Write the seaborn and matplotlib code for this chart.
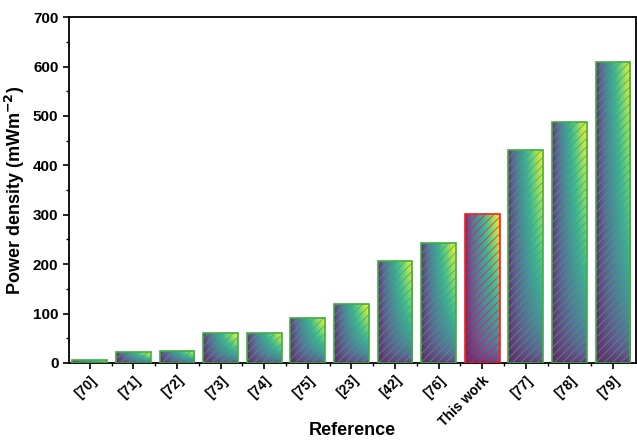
import numpy as np
import matplotlib
matplotlib.use("Agg")
import matplotlib.pyplot as plt
import seaborn as sns
from matplotlib.ticker import MultipleLocator, FixedLocator

# values
refs = ["[70]", "[71]", "[72]", "[73]", "[74]", "[75]", "[23]", "[42]", "[76]",
        "This work", "[77]", "[78]", "[79]"]
power = [6, 22, 25, 60, 61, 92, 119, 206, 242, 302, 432, 487, 610]
highlight = "This work"

sns.set_style("ticks")
plt.rcParams['font.family'] = ['Liberation Sans', 'DejaVu Sans']
plt.rcParams['font.weight'] = 'bold'
plt.rcParams['hatch.linewidth'] = 0.5
plt.rcParams['text.color'] = 'black'
plt.rcParams['axes.labelcolor'] = 'black'
plt.rcParams['xtick.color'] = 'black'
plt.rcParams['ytick.color'] = 'black'
plt.rcParams['axes.edgecolor'] = 'black'

fig = plt.figure(figsize=(6.37, 4.41), dpi=100)
ax = fig.add_axes([0.108, 0.177, 0.890, 0.784])

sns.barplot(x=refs, y=power, color="white", width=0.8, ax=ax, zorder=3)

# per-bar diagonal gradient, purple bottom-left -> yellow top-right
gx, gy = np.meshgrid(np.linspace(0, 1, 60), np.linspace(0, 1, 240))
grad = (gx ** 0.8) * (gy ** 0.5)

for patch, label in zip(ax.patches, refs):
    x0, w, h = patch.get_x(), patch.get_width(), patch.get_height()
    edge = "#ff1a1a" if label == highlight else "#3fae3f"
    patch.set_facecolor("none")
    patch.set_edgecolor(edge)
    patch.set_linewidth(1.2)
    patch.set_hatch("////")
    im = ax.imshow(grad, cmap="viridis", origin="lower", aspect="auto",
                   extent=[x0, x0 + w, 0, h], alpha=0.85, zorder=2,
                   interpolation="bilinear")
    im.set_clip_path(patch)

ax.set_xlim(-0.48, 12.52)
ax.set_ylim(0, 700)
ax.yaxis.set_major_locator(MultipleLocator(100))
ax.yaxis.set_minor_locator(MultipleLocator(50))
ax.xaxis.set_minor_locator(FixedLocator(np.arange(0.5, 12, 1)))

ax.tick_params(axis="both", which="major", direction="out", length=4, width=1.2,
               labelsize=11)
ax.tick_params(axis="x", which="major", labelsize=10)
ax.tick_params(axis="both", which="minor", direction="out", length=2.5, width=1.0)
for lab in ax.get_xticklabels():
    lab.set_rotation(45)
    lab.set_ha("right")
    lab.set_rotation_mode("anchor")
    lab.set_fontweight("bold")
for lab in ax.get_yticklabels():
    lab.set_fontweight("bold")

for s in ax.spines.values():
    s.set_linewidth(1.3)
    s.set_visible(True)

ax.set_ylabel("Power density (mWm$^{\\mathbf{-2}}$)", fontsize=13, fontweight="bold")
ax.set_xlabel("Reference", fontsize=13, fontweight="bold", va="center")
ax.xaxis.set_label_coords(0.5, -0.196)

fig.savefig("out.png", dpi=100)
